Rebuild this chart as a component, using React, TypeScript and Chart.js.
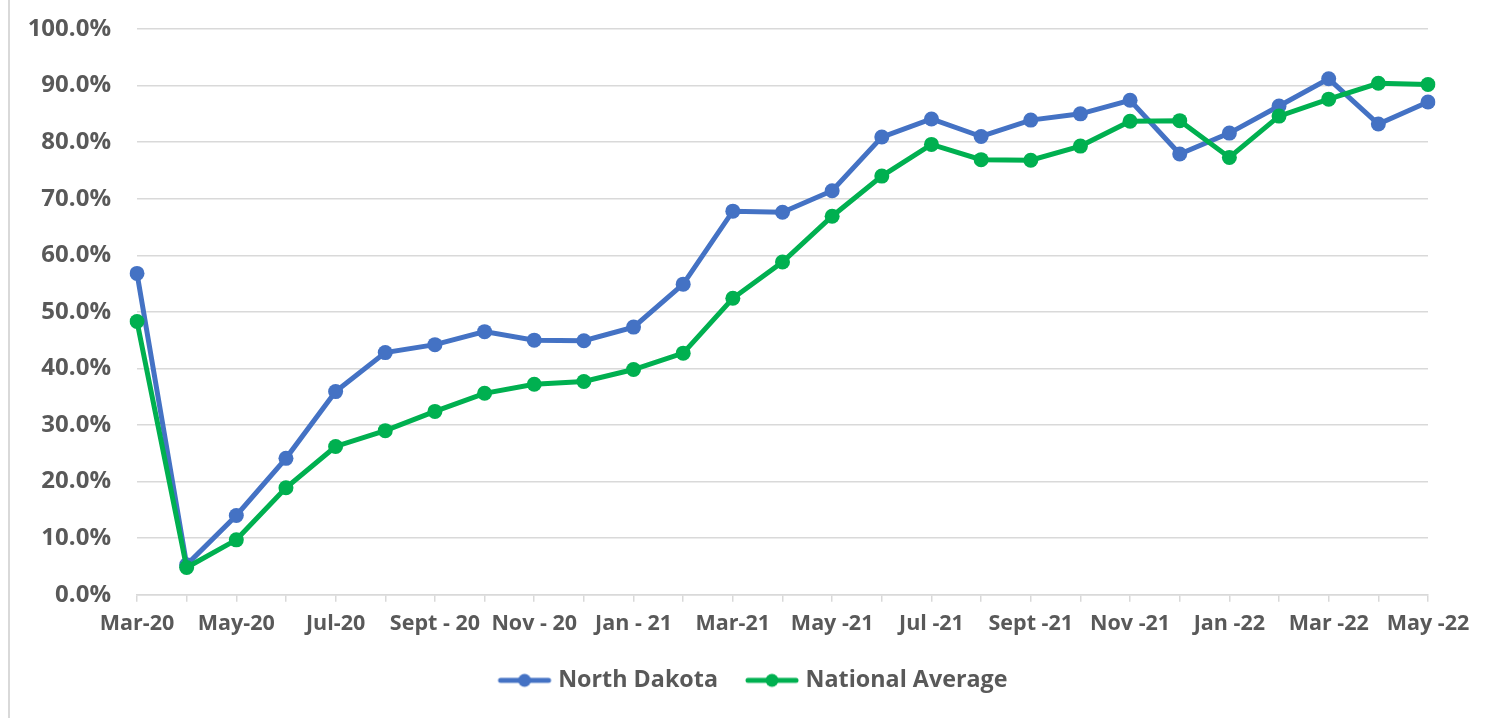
import React, { useEffect, useRef } from "react";
import { Chart, registerables } from "chart.js";

Chart.register(...registerables);

const categories = [
  "Mar-20", "Apr-20", "May-20", "Jun-20", "Jul-20", "Aug-20", "Sept - 20", "Oct - 20",
  "Nov - 20", "Dec - 20", "Jan - 21", "Feb - 21", "Mar-21", "Apr -21", "May -21", "Jun -21",
  "Jul -21", "Aug -21", "Sept -21", "Oct -21", "Nov -21", "Dec -21", "Jan -22", "Feb -22",
  "Mar -22", "Apr -22", "May -22",
];

const northDakota = [
  56.8, 5.3, 14.0, 24.1, 35.9, 42.8, 44.2, 46.5, 45.0, 44.9, 47.3, 54.9, 67.8, 67.6,
  71.4, 80.9, 84.1, 81.0, 83.9, 85.0, 87.4, 77.9, 81.6, 86.4, 91.2, 83.2, 87.1,
];

const nationalAverage = [
  48.3, 4.8, 9.7, 18.9, 26.2, 29.0, 32.4, 35.6, 37.2, 37.7, 39.8, 42.7, 52.4, 58.8,
  66.9, 74.0, 79.6, 76.9, 76.8, 79.3, 83.7, 83.8, 77.3, 84.6, 87.6, 90.4, 90.2,
];

const yTicks = [0, 10, 20, 30, 40, 50, 60, 70, 80, 90, 100];

const BLUE = "#4472C4";
const GREEN = "#00B050";
const TEXT = "#595959";
const GRID = "#D9D9D9";
const FONT = "'Open Sans', 'DejaVu Sans', sans-serif";

function legendIcon(color: string): HTMLCanvasElement {
  const c = document.createElement("canvas");
  c.width = 78;
  c.height = 18;
  const ctx = c.getContext("2d")!;
  ctx.strokeStyle = color;
  ctx.lineWidth = 5;
  ctx.lineCap = "round";
  ctx.beginPath();
  ctx.moveTo(26, 9);
  ctx.lineTo(74, 9);
  ctx.stroke();
  ctx.fillStyle = color;
  ctx.beginPath();
  ctx.arc(50, 9, 6.5, 0, Math.PI * 2);
  ctx.fill();
  return c;
}

const borderPlugin = {
  id: "leftBorder",
  beforeDraw(chart: any) {
    const ctx = chart.ctx;
    ctx.save();
    ctx.fillStyle = GRID;
    ctx.fillRect(8, 0, 2, chart.height);
    ctx.restore();
  },
};

export default function App() {
  const ref = useRef<HTMLCanvasElement | null>(null);

  useEffect(() => {
    if (!ref.current) return;
    const icons = [legendIcon(BLUE), legendIcon(GREEN)];
    const chart = new Chart(ref.current, {
      type: "line",
      data: {
        labels: categories,
        datasets: [
          {
            label: "North Dakota",
            data: northDakota,
            borderColor: BLUE,
            backgroundColor: BLUE,
            borderWidth: 5,
            pointRadius: 7.5,
            pointHoverRadius: 7.5,
            pointBackgroundColor: BLUE,
            pointBorderWidth: 0,
            tension: 0,
            order: 1,
          },
          {
            label: "National Average",
            data: nationalAverage,
            borderColor: GREEN,
            backgroundColor: GREEN,
            borderWidth: 5,
            pointRadius: 7.5,
            pointHoverRadius: 7.5,
            pointBackgroundColor: GREEN,
            pointBorderWidth: 0,
            tension: 0,
            order: 0,
          },
        ],
      },
      options: {
        animation: false,
        responsive: true,
        maintainAspectRatio: false,
        layout: { padding: { left: 20, right: 29, top: 29, bottom: 16 } },
        plugins: {
          tooltip: { enabled: false },
          legend: {
            position: "bottom",
            labels: {
              usePointStyle: true,
              pointStyleWidth: 66,
              padding: 10,
              color: TEXT,
              font: { family: FONT, size: 23.3, weight: "bold" },
              sort: (a: any, b: any) => a.datasetIndex - b.datasetIndex,
              generateLabels: (ch: any) => {
                const items = Chart.defaults.plugins.legend.labels.generateLabels(ch);
                return items.map((it: any) => ({ ...it, pointStyle: icons[it.datasetIndex] }));
              },
            },
          },
        },
        scales: {
          x: {
            type: "category",
            offset: false,
            grid: {
              display: true,
              drawOnChartArea: false,
              drawTicks: true,
              tickLength: 7,
              color: GRID,
              lineWidth: 1.5,
            },
            border: { display: true, color: GRID, width: 1.5 },
            ticks: {
              autoSkip: false,
              maxRotation: 0,
              minRotation: 0,
              padding: 9,
              color: TEXT,
              font: { family: FONT, size: 21.5, weight: "bold" },
              callback: (_v: any, i: number) => (i % 2 === 0 ? categories[i] : ""),
            },
            afterFit: (s: any) => {
              s.height = 64;
            },
          },
          y: {
            min: 0,
            max: 100,
            afterBuildTicks: (s: any) => {
              s.ticks = yTicks.map((v) => ({ value: v }));
            },
            grid: {
              color: GRID,
              lineWidth: 1.5,
              drawTicks: true,
              tickLength: 26,
              tickColor: "rgba(0,0,0,0)",
            },
            border: { display: false },
            ticks: {
              padding: 0,
              color: TEXT,
              font: { family: FONT, size: 24, weight: "bold" },
              callback: (v: any) => Number(v).toFixed(1) + "%",
            },
            afterFit: (s: any) => {
              s.width = 117;
            },
          },
          yRightSpace: {
            type: "linear",
            position: "right",
            display: true,
            grid: { display: false, drawTicks: false },
            border: { display: false },
            ticks: { display: false },
            afterFit: (s: any) => {
              s.width = 40;
            },
          },
        },
      },
      plugins: [borderPlugin],
    });
    return () => chart.destroy();
  }, []);

  return (
    <div style={{ position: "fixed", left: 0, top: 0, width: 1497, height: 718, background: "#fff" }}>
      <canvas ref={ref} />
    </div>
  );
}
